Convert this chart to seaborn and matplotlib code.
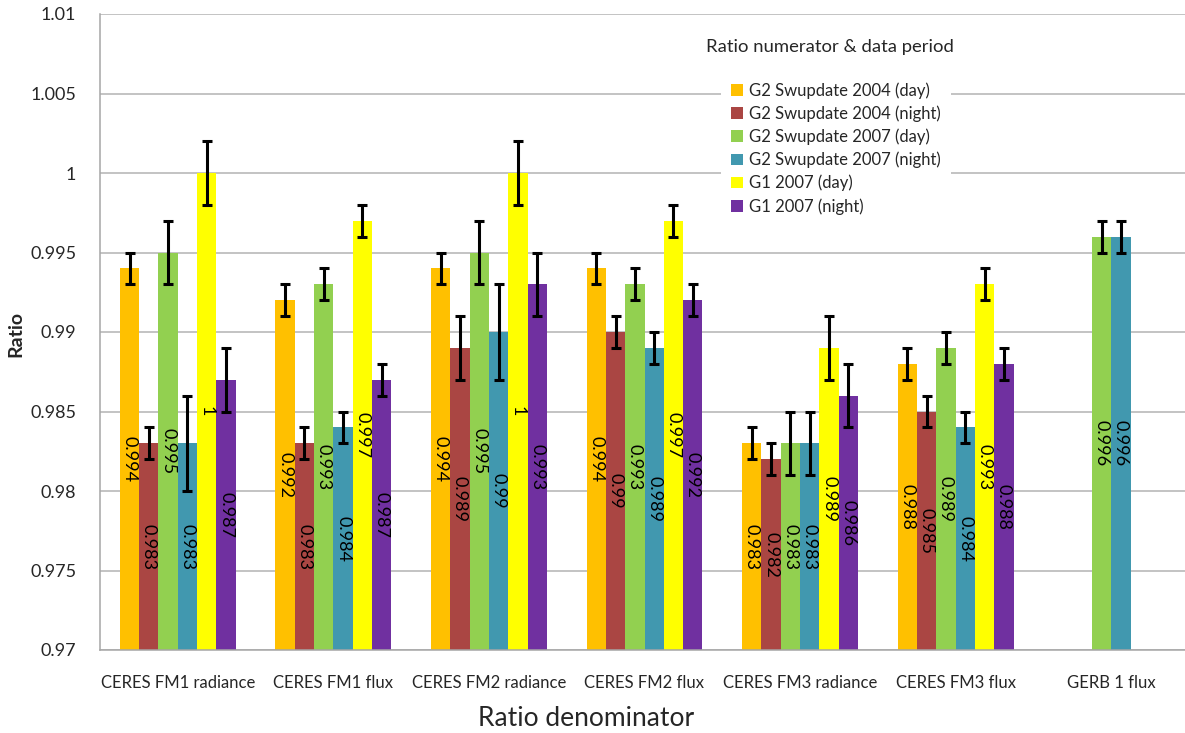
import numpy as np
import pandas as pd
import seaborn as sns
import matplotlib.pyplot as plt
from matplotlib.patches import Patch

# ratio denominators (x categories)
categories = ["CERES FM1 radiance", "CERES FM1 flux", "CERES FM2 radiance",
              "CERES FM2 flux", "CERES FM3 radiance", "CERES FM3 flux", "GERB 1 flux"]

# ratio numerators (hue)
series = ["G2 Swupdate 2004 (day)", "G2 Swupdate 2004 (night)",
          "G2 Swupdate 2007 (day)", "G2 Swupdate 2007 (night)",
          "G1 2007 (day)", "G1 2007 (night)"]
colors = ["#FFC000", "#AA4643", "#92D050", "#4198AF", "#FFFF00", "#7030A0"]

nan = np.nan
g2_2004_day = [0.994, 0.992, 0.994, 0.994, 0.983, 0.988, nan]
g2_2004_night = [0.983, 0.983, 0.989, 0.990, 0.982, 0.985, nan]
g2_2007_day = [0.995, 0.993, 0.995, 0.993, 0.983, 0.989, 0.996]
g2_2007_night = [0.983, 0.984, 0.990, 0.989, 0.983, 0.984, 0.996]
g1_2007_day = [1.000, 0.997, 1.000, 0.997, 0.989, 0.993, nan]
g1_2007_night = [0.987, 0.987, 0.993, 0.992, 0.986, 0.988, nan]

err_2004_day = [0.001, 0.001, 0.001, 0.001, 0.001, 0.001, nan]
err_2004_night = [0.001, 0.001, 0.002, 0.001, 0.001, 0.001, nan]
err_2007_day = [0.002, 0.001, 0.002, 0.001, 0.002, 0.001, 0.001]
err_2007_night = [0.003, 0.001, 0.003, 0.001, 0.002, 0.001, 0.001]
err_g1_day = [0.002, 0.001, 0.002, 0.001, 0.002, 0.001, nan]
err_g1_night = [0.002, 0.001, 0.002, 0.001, 0.002, 0.001, nan]

values = [g2_2004_day, g2_2004_night, g2_2007_day, g2_2007_night, g1_2007_day, g1_2007_night]
errors = [err_2004_day, err_2004_night, err_2007_day, err_2007_night, err_g1_day, err_g1_night]

rows = []
for s, vals in zip(series, values):
    for c, v in zip(categories, vals):
        if not np.isnan(v):
            rows.append({"denominator": c, "numerator": s, "ratio": v})
df = pd.DataFrame(rows)

sns.set_style("white")
plt.rcParams["font.family"] = ["Lato", "DejaVu Sans"]

fig = plt.figure(figsize=(11.85, 7.33), dpi=100)
ax = fig.add_axes([100 / 1185, 1 - 650 / 733, 1089 / 1185, 636 / 733])

group_w = 0.744
sns.barplot(data=df, x="denominator", y="ratio", hue="numerator",
            order=categories, hue_order=series, palette=dict(zip(series, colors)),
            width=group_w, saturation=1, errorbar=None, linewidth=0,
            legend=False, ax=ax, zorder=2)

bar_w = group_w / len(series)
for patch in list(ax.patches):
    cx = patch.get_x() + patch.get_width() / 2
    ci = int(round(cx))
    hi = int(round((cx - ci + group_w / 2) / bar_w - 0.5))
    v = values[hi][ci]
    e = errors[hi][ci]
    ax.errorbar(cx, v, yerr=e, fmt="none", ecolor="black", elinewidth=2.2,
                capsize=3.5, capthick=2.2, zorder=3)
    # data label in the middle of the visible bar, reading top to bottom
    ax.text(cx, (0.97 + v) / 2, f"{v:g}", rotation=270, ha="center", va="center",
            fontsize=13, color="black", zorder=4)

ax.set_ylim(0.97, 1.01)
ax.set_xlim(-0.5, len(categories) - 0.5)
yt = np.arange(0.97, 1.0101, 0.005)
ax.set_yticks(yt)
ax.set_yticklabels([f"{round(t, 3):g}" for t in yt])
ax.yaxis.grid(True, color="#b3b3b3", linewidth=1.1, zorder=0)
ax.set_axisbelow(True)

ax.set_xticks(range(len(categories)))
ax.set_xticklabels(categories)
ax.set_xticks(np.arange(-0.5, len(categories), 1), minor=True)
ax.tick_params(axis="x", which="major", length=0, pad=18, labelsize=12)
ax.tick_params(axis="x", which="minor", length=5, width=1.1, color="#a6a6a6", direction="out")
ax.tick_params(axis="y", length=5, width=1.1, color="#a6a6a6", direction="out", pad=12, labelsize=13)

for side in ["top", "right"]:
    ax.spines[side].set_visible(False)
for side in ["left", "bottom"]:
    ax.spines[side].set_color("#a6a6a6")
    ax.spines[side].set_linewidth(1.1)

ax.set_ylabel("Ratio", fontsize=14, fontweight="bold", va="center")
ax.yaxis.set_label_coords(-84 / 1089, 0.497)
ax.set_xlabel("Ratio denominator", fontsize=19, va="center")
ax.xaxis.set_label_coords(0.446, -0.108)

handles = [Patch(facecolor=c, edgecolor="none", label=s) for s, c in zip(series, colors)]
leg = ax.legend(handles=handles, loc="upper left", bbox_to_anchor=(721 / 1185, 1 - 72 / 733),
                bbox_transform=fig.transFigure, frameon=True, fontsize=12,
                handlelength=0.7, handleheight=0.7, handletextpad=0.4,
                labelspacing=0.4, borderpad=0.6, borderaxespad=0)
leg.get_frame().set_facecolor("white")
leg.get_frame().set_edgecolor("none")
leg.get_frame().set_alpha(1)
leg.set_zorder(5)

fig.text(830 / 1185, 1 - 47 / 733, "Ratio numerator & data period", ha="center",
         va="center", fontsize=13.3)

fig.savefig("out.png", dpi=100)
